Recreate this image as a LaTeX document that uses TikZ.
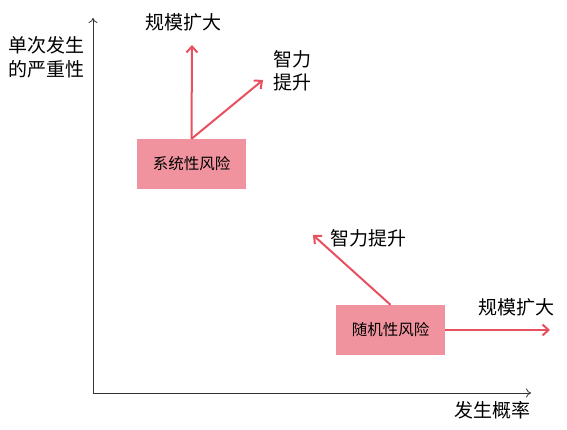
\documentclass[tikz,border=0pt]{standalone}
\usepackage{fontspec}
\setmainfont{Noto Sans CJK SC}
\usetikzlibrary{arrows.meta}
\definecolor{boxpink}{HTML}{F0939E}
\definecolor{arrred}{HTML}{E8505F}
\definecolor{axisgray}{HTML}{333333}
\begin{document}
\begin{tikzpicture}[x=1pt,y=-1pt,
  riskbox/.style={fill=boxpink,minimum width=109pt,minimum height=50pt,inner sep=0pt,font=\fontsize{15.5}{17}\selectfont},
  lbl/.style={font=\fontsize{19}{23.5}\selectfont,inner sep=0pt,align=left},
  axis/.style={draw=axisgray,line width=0.8pt,-{To[length=5pt,width=9pt]}},
  redarr/.style={draw=arrred,line width=2pt,-{Straight Barb[length=6pt,width=11pt]}}]
\useasboundingbox (0,0) rectangle (567,429);
\coordinate (O) at (93,393);
\coordinate (Ytop) at (93,18);
\coordinate (Xend) at (531,393);
\draw[axis] (O) -- (Ytop);
\draw[axis] (O) -- (Xend);
\node[lbl] (ylab) at (47,57) {单次发生\\的严重性};
\node[lbl] (xlab) at (492,410) {发生概率};
\node[riskbox] (sys) at (191.5,164) {系统性风险};
\node[riskbox] (rnd) at (390.5,330) {随机性风险};
\coordinate (s1) at (192,45);
\coordinate (s2) at (263,80);
\coordinate (r1) at (313,235);
\coordinate (r2) at (550,330);
\draw[redarr] (sys.north) -- (s1);
\draw[redarr] (sys.north) -- (s2);
\draw[redarr] (rnd.north) -- (r1);
\draw[redarr] (rnd.east) -- (r2);
\node[lbl] (l1) at (183,22) {规模扩大};
\node[lbl] (l2) at (292,71) {智力\\提升};
\node[lbl] (l3) at (368,238) {智力提升};
\node[lbl] (l4) at (516,307) {规模扩大};
\end{tikzpicture}
\end{document}
